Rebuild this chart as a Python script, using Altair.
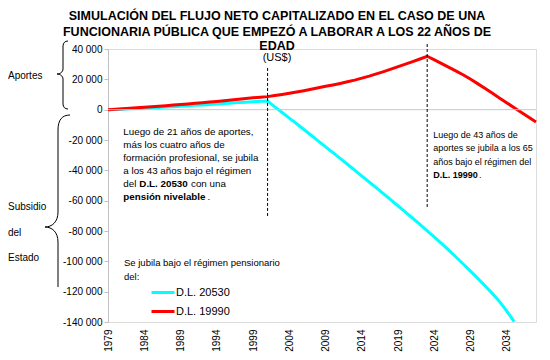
import altair as alt
import pandas as pd

# ---------------- data ----------------
series = ["D.L. 20530", "D.L. 19990"]
colors = ["#00FFFF", "#FF0000"]

years_20530 = list(range(1979, 2036))
flujo_20530 = [
    0, 150, 350, 550, 750, 950, 1200, 1450, 1700, 1950, 2250, 2550, 2850,
    3150, 3450, 3750, 4050, 4350, 4650, 4950, 5250, 5500, 5700,
    1800, -1900, -5600, -9300, -13100, -16900, -20700, -24500, -28300,
    -32100, -36000, -39900, -43800, -47700, -51600, -55500, -59500, -63500,
    -67500, -71600, -75700, -79900, -84100, -88400, -92800, -97300, -101900,
    -106600, -111400, -116300, -121300, -126700, -133000, -139800,
]

years_19990 = list(range(1979, 2039))
flujo_19990 = [
    0, 250, 550, 900, 1250, 1600, 1950, 2300, 2650, 3000, 3400, 3800, 4200,
    4600, 5000, 5450, 5900, 6350, 6800, 7300, 7800, 8200, 8600,
    9300, 10000, 10800, 11600, 12500, 13400, 14400, 15400, 16300, 17300,
    18400, 19500, 20800, 22100, 23600, 25100, 26700, 28400, 30000, 31700,
    33400, 35200,
    32800, 30400, 27900, 25400, 22900, 20000, 17000, 13900, 10800, 7600,
    4400, 1200, -1900, -5000, -8100,
]

y_ticks = list(range(-140000, 40001, 20000))
x_ticks = list(range(1979, 2035, 5))

title_lines = [
    "SIMULACIÓN DEL FLUJO NETO CAPITALIZADO EN EL CASO DE UNA",
    "FUNCIONARIA PÚBLICA QUE EMPEZÓ A LABORAR A LOS 22 AÑOS DE",
    "EDAD",
]
subtitle = "(US$)"

note1_lines = [
    "Luego de 21 años de aportes,",
    "más los cuatro años de",
    "formación profesional, se jubila",
    "a los 43 años bajo el régimen",
    "del",
]
note2_lines = [
    "Luego de 43 años de",
    "aportes se jubila a los 65",
    "años bajo el régimen del",
]
legend_head = ["Se jubila bajo el régimen pensionario", "del:"]

# ---------------- build table ----------------
df = pd.concat([
    pd.DataFrame({"year": years_20530, "flujo": flujo_20530, "serie": series[0]}),
    pd.DataFrame({"year": years_19990, "flujo": flujo_19990, "serie": series[1]}),
], ignore_index=True)
one = pd.DataFrame({"k": [0]})

W, H = 428, 273
FONT = "Liberation Sans"

xs = alt.Scale(domain=[1979, 2038], nice=False, zero=False)
ys = alt.Scale(domain=[-140000, 40000], nice=False, zero=False)

x_enc = alt.X("year:Q", scale=xs, axis=alt.Axis(
    values=x_ticks, tickCount=40, format="d", labelAngle=270, labelPadding=7,
    ticks=False, domain=False, grid=False, labelFontSize=10, labelColor="#000",
    labelFont=FONT, labelOverlap=False, title=None))
y_enc = alt.Y("flujo:Q", scale=ys, axis=alt.Axis(
    values=y_ticks, tickCount=40,
    labelExpr="(datum.value < 0 ? '-' : '') + replace(format(abs(datum.value), ','), ',', ' ')",
    grid=False, labelFontSize=10, labelColor="#000", labelFont=FONT,
    domainColor="#c0c0c0", tickColor="#c0c0c0", tickSize=4, labelPadding=2,
    labelOverlap=False, title=None))
color_enc = alt.Color("serie:N", scale=alt.Scale(domain=series, range=colors),
                      legend=alt.Legend(
                          orient="none", legendX=42, legendY=230.5, title=None,
                          symbolType="stroke", symbolSize=529, symbolStrokeWidth=3,
                          labelFontSize=11, labelFont=FONT, labelColor="#000",
                          labelOffset=0, padding=0, rowPadding=-5))

base = alt.Chart(df)
line_a = base.transform_filter(alt.datum.serie == series[0]).mark_line(
    strokeWidth=3).encode(x=x_enc, y=y_enc, color=color_enc)
line_b = base.transform_filter(alt.datum.serie == series[1]).mark_line(
    strokeWidth=3).encode(x=x_enc, y=y_enc, color=color_enc)

zero_rule = alt.Chart(one).mark_rule(color="#c8c8c8", strokeWidth=1).encode(
    y=alt.datum(0))
dash1 = alt.Chart(one).mark_rule(color="#000", strokeWidth=1, strokeDash=[3, 2]).encode(
    x=alt.datum(2001), y=alt.datum(27500), y2=alt.datum(-70400))
dash2 = alt.Chart(one).mark_rule(color="#000", strokeWidth=1, strokeDash=[3, 2]).encode(
    x=alt.datum(2023), y=alt.datum(43300), y2=alt.datum(-65000))


def txt(text, x, y, size=10, bold=False, align="left", lh=None):
    kw = dict(text=text, fontSize=size, font=FONT, color="#000", align=align,
              baseline="middle", fontWeight="bold" if bold else "normal")
    if lh:
        kw["lineHeight"] = lh
    return alt.Chart(one).mark_text(**kw).encode(x=alt.value(x), y=alt.value(y))


brace1 = ("M5,-34 C2,-34 0,-32 0,-29 L0,-6 C0,-3 -3,-1 -6,-1 "
          "C-3,-1 0,1 0,4 L0,29 C0,32 2,34 5,34")
brace2 = ("M12,-85 C4,-85 0,-80 0,-70 L0,12 C0,22 -6,27 -13,27 "
          "C-6,27 0,32 0,42 L0,87")


def brace(path, x, y):
    return alt.Chart(one).mark_point(shape=path, size=4, filled=False, color="#000",
                                     strokeWidth=1, opacity=1).encode(
        x=alt.value(x), y=alt.value(y))


N1 = 9.8
N2 = 9.0
layers = [
    line_a, line_b, zero_rule, dash1, dash2,
    txt(title_lines[0], 169, -33, 12.5, True, "center"),
    txt(title_lines[1], 169, -17.5, 12.5, True, "center"),
    txt(title_lines[2], 169, -3.5, 12.5, True, "center"),
    txt(subtitle, 169, 8.5, 11, False, "center"),
    txt(note1_lines, 15.3, 82.7, size=N1, lh=13),
    txt("D.L. 20530", 31.3, 134.7, size=N1, bold=True),
    txt("con una", 83, 134.7, size=N1),
    txt("pensión nivelable", 15.3, 147.7, size=N1, bold=True),
    txt(".", 99.5, 147.7, size=N1),
    txt(note2_lines, 325.3, 86, size=N2, lh=13.3),
    txt("D.L. 19990", 325.3, 126, size=N2, bold=True),
    txt(".", 371, 126, size=N2),
    txt(legend_head, 16, 214.3, size=9.5, lh=13.4),
    txt("Aportes", -100, 26.7),
    txt("Subsidio", -100, 158),
    txt("del", -100, 184),
    txt("Estado", -100, 209),
    brace(brace1, -45, 26),
    brace(brace2, -50, 151),
]

chart = alt.layer(*layers).properties(
    width=W, height=H,
    autosize=alt.AutoSizeParams(type="none"),
    padding={"left": 100, "top": 41, "right": 6, "bottom": 38},
).configure_view(strokeWidth=0).configure(font=FONT).configure_axis(labelOverlap=False)

chart.save("out.html", embed_options={"renderer": "svg", "actions": False})
